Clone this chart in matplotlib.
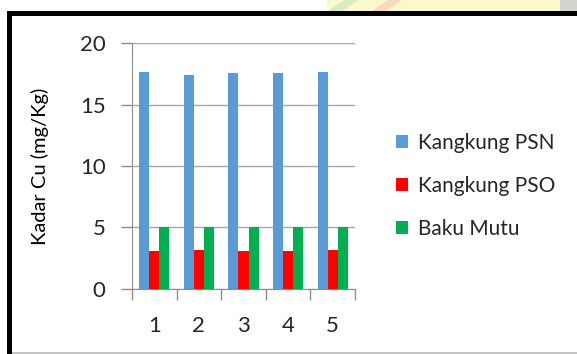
import numpy as np
import matplotlib.pyplot as plt
from matplotlib.patches import Rectangle, Polygon

plt.rcParams['font.family'] = ['Lato', 'DejaVu Sans']

samples = ['1', '2', '3', '4', '5']
psn = [17.65, 17.43, 17.57, 17.57, 17.65]
pso = [3.08, 3.19, 3.08, 3.08, 3.19]
baku_mutu = [5, 5, 5, 5, 5]
series_names = ['Kangkung PSN', 'Kangkung PSO', 'Baku Mutu']
colors = ['#5b9bd5', '#ff0000', '#00b050']

W, H = 577, 354
fig = plt.figure(figsize=(W / 100, H / 100), dpi=100)


def px(x0, y0, x1, y1):
    # pixel box (top-left origin) -> figure fraction rectangle
    return (x0 / W, 1 - y1 / H), (x1 - x0) / W, (y1 - y0) / H


# faded banner strip peeking above the frame
for (x0, x1, c, a) in [(327, 560, '#fbf8c4', 0.9), (560, 577, '#c9c9c4', 0.8)]:
    xy, w, h = px(x0, 0, x1, 11)
    fig.patches.append(Rectangle(xy, w, h, transform=fig.transFigure,
                                 color=c, alpha=a, lw=0, zorder=-3))
for (xa, c) in [(328, '#cfe8c0'), (372, '#f6d0c0')]:
    pts = [(xa / W, 1 - 11 / H), ((xa + 14) / W, 1 - 11 / H),
           ((xa + 30) / W, 1.0), ((xa + 16) / W, 1.0)]
    fig.patches.append(Polygon(pts, transform=fig.transFigure,
                               color=c, alpha=0.8, lw=0, zorder=-3))

# white chart box with heavy black left/top edges
xy, w, h = px(12, 16, 577, 352)
fig.patches.append(Rectangle(xy, w, h, transform=fig.transFigure,
                             color='white', lw=0, zorder=-3))
for box, c in [((7, 11, 12, 354), 'black'), ((7, 11, 577, 16), 'black'),
               ((12, 352, 577, 353.5), '#c4c4c4')]:
    xy, w, h = px(*box)
    fig.patches.append(Rectangle(xy, w, h, transform=fig.transFigure,
                                 color=c, lw=0, zorder=-2))

ax = fig.add_axes([132 / W, 1 - 288.7 / H, (355 - 132) / W, (288.7 - 43.3) / H])
ax.set_facecolor('none')

x = np.arange(len(samples))
bw = 0.225
for i, (vals, name, c) in enumerate(zip([psn, pso, baku_mutu], series_names, colors)):
    ax.bar(x + (i - 1) * bw, vals, bw, color=c, label=name, zorder=3)

ax.set_xlim(-0.5, len(samples) - 0.5)
ax.set_ylim(0, 20)
ax.set_yticks([0, 5, 10, 15, 20])
ax.set_xticks(np.arange(-0.5, len(samples), 1.0), minor=False)
ax.set_xticklabels([])
ax.set_xticks(x, minor=True)
ax.set_xticklabels(samples, minor=True)
ax.tick_params(axis='x', which='major', length=8, color='#8c8c8c', width=1)
ax.tick_params(axis='x', which='minor', length=0, pad=20, labelsize=16, labelcolor='#262626')
ax.tick_params(axis='y', length=8, color='#8c8c8c', width=1, pad=11,
               labelsize=16, labelcolor='#262626')
ax.yaxis.grid(True, color='#a6a6a6', lw=1, zorder=0)
for s in ['top', 'right']:
    ax.spines[s].set_visible(False)
for s in ['left', 'bottom']:
    ax.spines[s].set_color('#8c8c8c')
ax.set_ylabel('Kadar Cu (mg/Kg)', fontsize=14.5, color='#000000', labelpad=22)

ax.legend(loc='center left', bbox_to_anchor=(377 / W, 1 - 186 / H),
          bbox_transform=fig.transFigure, frameon=False, fontsize=15,
          handlelength=0.6, handleheight=0.6, handletextpad=0.45,
          labelspacing=1.1, labelcolor='#262626')

fig.savefig('out.png', dpi=100)
